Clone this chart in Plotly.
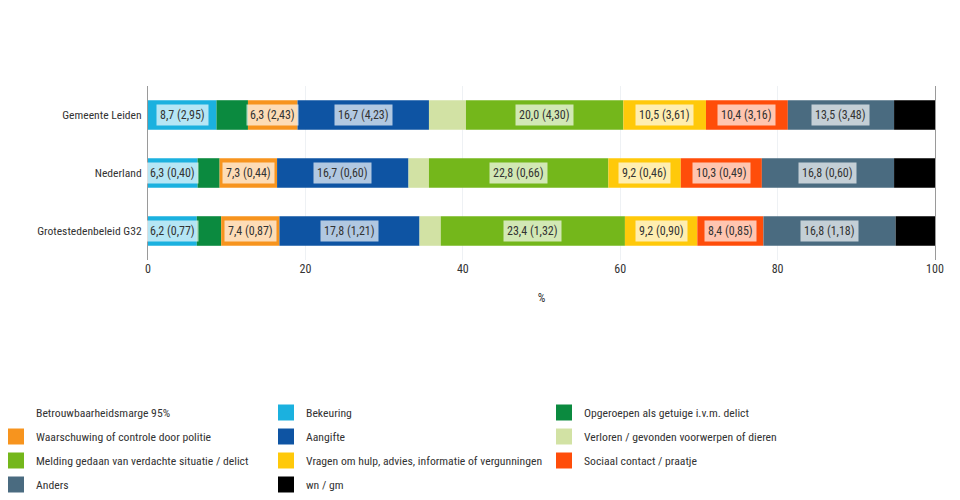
import plotly.graph_objects as go

categories = ["Gemeente Leiden", "Nederland", "Grotestedenbeleid G32"]

bekeuring = [8.7, 6.3, 6.2]
bekeuring_marge = [2.95, 0.40, 0.77]
opgeroepen = [4.0, 2.8, 3.1]
waarschuwing = [6.3, 7.3, 7.4]
waarschuwing_marge = [2.43, 0.44, 0.87]
aangifte = [16.7, 16.7, 17.8]
aangifte_marge = [4.23, 0.60, 1.21]
verloren = [4.7, 2.6, 2.7]
melding = [20.0, 22.8, 23.4]
melding_marge = [4.30, 0.66, 1.32]
vragen = [10.5, 9.2, 9.2]
vragen_marge = [3.61, 0.46, 0.90]
sociaal = [10.4, 10.3, 8.4]
sociaal_marge = [3.16, 0.49, 0.85]
anders = [13.5, 16.8, 16.8]
anders_marge = [3.48, 0.60, 1.18]
wngm = [5.2, 5.2, 5.0]

x_ticks = [0, 20, 40, 60, 80, 100]

series = [
    ("Bekeuring", bekeuring, bekeuring_marge, "#1BB1DF"),
    ("Opgeroepen als getuige i.v.m. delict", opgeroepen, None, "#0B8A3F"),
    ("Waarschuwing of controle door politie", waarschuwing, waarschuwing_marge, "#F7941E"),
    ("Aangifte", aangifte, aangifte_marge, "#0E54A3"),
    ("Verloren / gevonden voorwerpen of dieren", verloren, None, "#D2E2A4"),
    ("Melding gedaan van verdachte situatie / delict", melding, melding_marge, "#74B71B"),
    ("Vragen om hulp, advies, informatie of vergunningen", vragen, vragen_marge, "#FFC90A"),
    ("Sociaal contact / praatje", sociaal, sociaal_marge, "#FF4D0A"),
    ("Anders", anders, anders_marge, "#4A6B80"),
    ("wn / gm", wngm, None, "#000000"),
]

FONT = "Liberation Sans Narrow, Roboto Condensed, DejaVu Sans Condensed, sans-serif"

# the page body adds an 8 px offset; the figure fills the rest of the window
W, H = 952, 492
L, R, T, B = 140, 25, 78, 240

fig = go.Figure()
annotations = []
base = [0.0] * len(categories)
for name, vals, marge, col in series:
    fig.add_trace(go.Bar(
        y=categories, x=vals, base=base, orientation="h", name=name,
        marker=dict(color=col, line=dict(width=0)), showlegend=False,
        hoverinfo="x+y",
    ))
    if marge is not None:
        for i, cat in enumerate(categories):
            txt = f"{vals[i]:.1f} ({marge[i]:.2f})".replace(".", ",")
            annotations.append(dict(
                x=base[i] + vals[i] / 2, y=cat, xref="x", yref="y",
                text=txt, showarrow=False,
                font=dict(family=FONT, size=12, color="#333333"),
                bgcolor="rgba(255,255,255,0.68)", borderpad=3,
            ))
    base = [b + v for b, v in zip(base, vals)]

# legend entries: row-major over 3 columns -> one vertical legend per column
legend_items = [("Betrouwbaarheidsmarge 95%", "rgba(0,0,0,0)")] + [(s[0], s[3]) for s in series]
legend_names = ["legend", "legend2", "legend3"]
for k, (name, col) in enumerate(legend_items):
    fig.add_trace(go.Scatter(
        x=[None], y=[None], mode="markers", name=name,
        marker=dict(symbol="square", size=16, color=col, line=dict(width=0)),
        legend=legend_names[k % 3], legendgroup=f"g{k}", showlegend=True,
        hoverinfo="skip",
    ))

plot_w = W - L - R
col_px = [-12, 258, 536]
layout_legends = {}
for ln, cx in zip(legend_names, col_px):
    layout_legends[ln] = dict(
        orientation="v", xref="paper", yref="container", x=(cx - L) / plot_w,
        xanchor="left", yanchor="top", y=1 - 390 / H, tracegroupgap=5,
        font=dict(family=FONT, size=11.7, color="#333333"), bgcolor="rgba(0,0,0,0)",
        itemclick=False, itemdoubleclick=False,
    )

fig.update_layout(
    width=W, height=H,
    margin=dict(l=L, r=R, t=T, b=B, autoexpand=False),
    barmode="overlay", bargap=0.49,
    plot_bgcolor="white", paper_bgcolor="white",
    font=dict(family=FONT, size=12, color="#333333"),
    annotations=annotations,
    xaxis=dict(
        range=[0, 100], tickvals=x_ticks, showgrid=True, gridcolor="#EEF1F4",
        zeroline=False, showline=False, ticks="",
        title=dict(text="%", font=dict(size=12, color="#333333"), standoff=18),
        tickfont=dict(size=12, color="#333333"),
    ),
    yaxis=dict(
        autorange="reversed", showline=True, mirror=True, linecolor="#9A9A9A",
        linewidth=1, ticks="", showgrid=False, tickfont=dict(size=11.6, color="#333333"),
        ticklabelstandoff=3,
    ),
    **layout_legends,
)

fig.write_html("out.html")
